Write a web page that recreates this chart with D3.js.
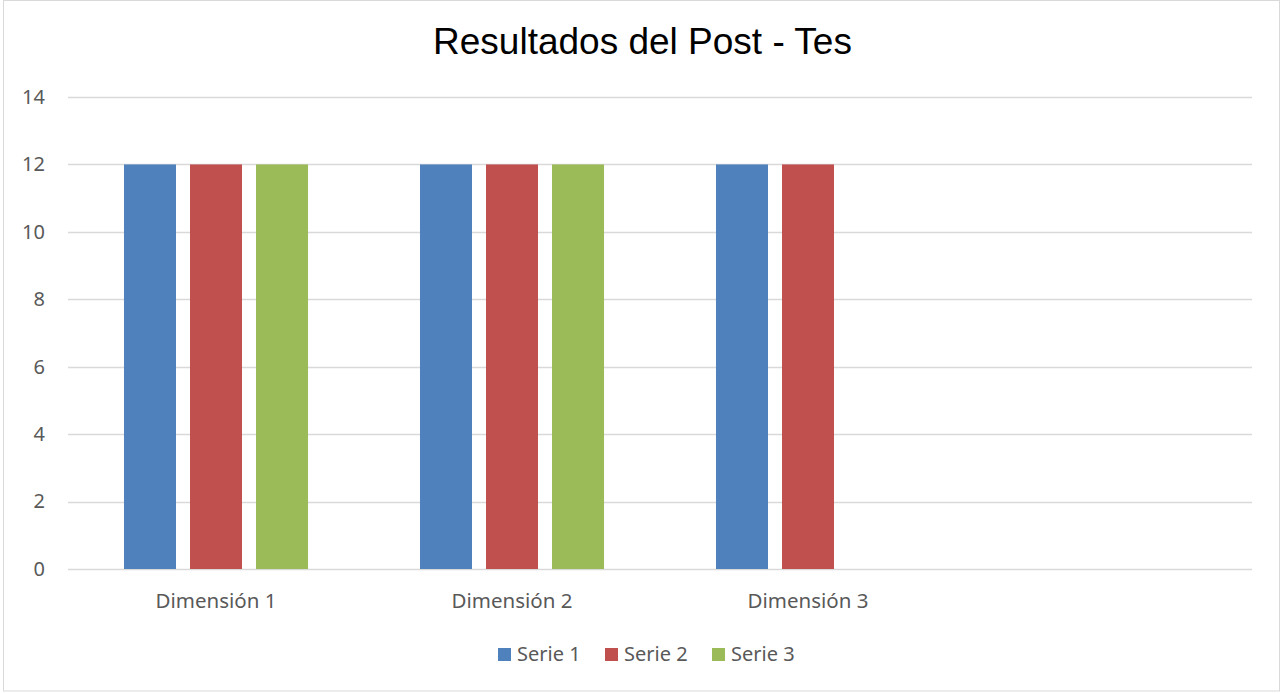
<!DOCTYPE html>
<html>
<head>
<meta charset="utf-8">
<script src="https://cdn.jsdelivr.net/npm/d3@7"></script>
<style>
  body { margin: 0; background: #fff; }
  svg { display: block; }
</style>
</head>
<body>
<svg id="chart"></svg>
<script>
// chart data
const categories = ['Dimensión 1', 'Dimensión 2', 'Dimensión 3', '']
const seriesNames = ['Serie 1', 'Serie 2', 'Serie 3']
const serie1 = [12, 12, 12, null]
const serie2 = [12, 12, 12, null]
const serie3 = [12, 12, null, null]
const yTicks = [0, 2, 4, 6, 8, 10, 12, 14]
const colors = ['#4F81BD', '#C0504D', '#9BBB59']

const allSeries = [serie1, serie2, serie3]

const width = 1280
const height = 693
const margin = { left: 68, top: 97, right: 28, bottom: 124 }
const labelFont = 'Noto Sans, Open Sans, sans-serif'

const svg = d3.select('#chart')
  .attr('width', width)
  .attr('height', height)

// outer border
svg.append('rect')
  .attr('x', 3.5).attr('y', 0.5)
  .attr('width', width - 4).attr('height', height - 2.5)
  .attr('fill', '#fff')
  .attr('stroke', '#D9D9D9')

svg.append('text')
  .attr('x', 642.5)
  .attr('y', 54)
  .attr('text-anchor', 'middle')
  .style('font-family', 'Liberation Sans, Arial, sans-serif')
  .style('font-size', '37px')
  .attr('fill', '#000')
  .text('Resultados del Post - Tes')

const xScale = d3.scaleBand()
  .domain(categories)
  .range([margin.left, width - margin.right])
  .paddingInner(0).paddingOuter(0)

const xInner = d3.scaleBand()
  .domain(seriesNames)
  .range([0, xScale.bandwidth()])
  .paddingInner(0.212)
  .paddingOuter(0.848)

const yScale = d3.scaleLinear()
  .domain([0, 14])
  .range([height - margin.bottom, margin.top])

// gridlines
svg.append('g')
  .selectAll('line')
  .data(yTicks)
  .enter()
  .append('line')
  .attr('x1', margin.left)
  .attr('x2', width - margin.right)
  .attr('y1', d => Math.round(yScale(d)) + 0.5)
  .attr('y2', d => Math.round(yScale(d)) + 0.5)
  .attr('stroke', '#D9D9D9')
  .attr('stroke-width', 1.3)

// y axis labels
const yAxis = svg.append('g')
  .attr('transform', `translate(${margin.left - 23},0)`)
  .call(d3.axisLeft(yScale).tickValues(yTicks).tickSize(0).tickPadding(0))
yAxis.select('.domain').remove()
yAxis.selectAll('text')
  .style('font-family', labelFont)
  .style('font-size', '20px')
  .attr('fill', '#595959')

// bars
const groups = svg.append('g')
  .selectAll('g')
  .data(allSeries)
  .enter()
  .append('g')
  .attr('fill', (d, i) => colors[i])

groups.each(function (values, si) {
  d3.select(this).selectAll('rect')
    .data(values.map((v, ci) => ({ v: v, c: categories[ci] })).filter(d => d.v !== null))
    .enter()
    .append('rect')
    .attr('x', d => xScale(d.c) + xInner(seriesNames[si]))
    .attr('y', d => yScale(d.v))
    .attr('width', xInner.bandwidth())
    .attr('height', d => yScale(0) - yScale(d.v))
})

// x axis labels
const xAxis = svg.append('g')
  .attr('transform', `translate(0,${height - margin.bottom})`)
  .call(d3.axisBottom(xScale).tickSize(0).tickPadding(0))
xAxis.select('.domain').remove()
xAxis.selectAll('text')
  .attr('y', 39)
  .attr('dy', null)
  .style('font-family', labelFont)
  .style('font-size', '20.5px')
  .attr('fill', '#595959')

// legend
const legendX = [498, 605, 712]
const legend = svg.append('g')
  .selectAll('g')
  .data(seriesNames)
  .enter()
  .append('g')
  .attr('transform', (d, i) => `translate(${legendX[i]},648)`)
legend.append('rect')
  .attr('width', 13).attr('height', 13)
  .attr('fill', (d, i) => colors[i])
legend.append('text')
  .attr('x', 19).attr('y', 13)
  .style('font-family', labelFont)
  .style('font-size', '20px')
  .attr('fill', '#595959')
  .text(d => d)
</script>
</body>
</html>
